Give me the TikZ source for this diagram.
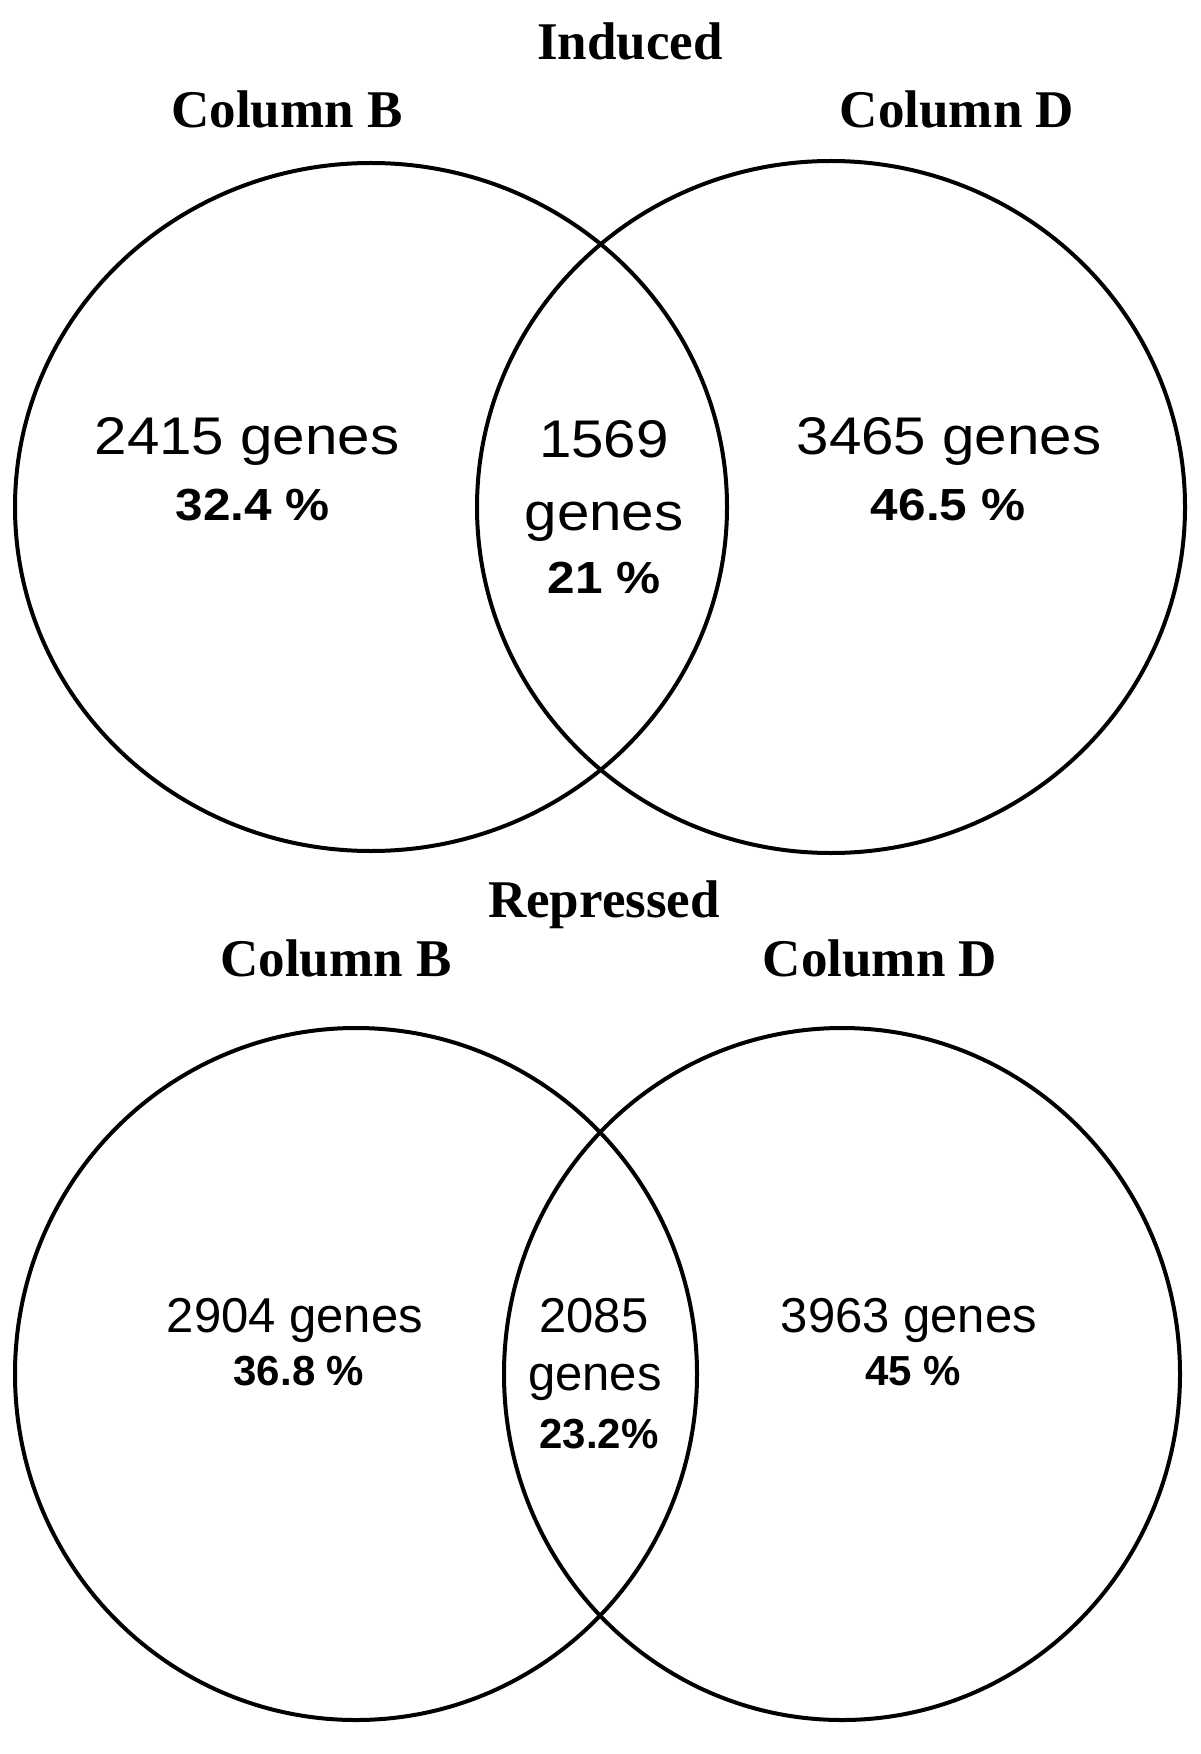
\documentclass[tikz,border=0pt]{standalone}
\usepackage{fontspec}
\setmainfont{Liberation Serif}
\newfontfamily\countfont{Liberation Sans}
\newfontfamily\widefont[FakeStretch=1.1]{Liberation Sans}
\usetikzlibrary{positioning}
\tikzset{
  set/.style={draw=black, line width=2pt},
  head/.style={anchor=base, font=\fontsize{26.5}{30}\selectfont\bfseries},
  bigcount/.style={anchor=base, font=\widefont\fontsize{26.5}{30}\selectfont},
  bigshare/.style={anchor=base, font=\widefont\fontsize{22.5}{26}\selectfont\bfseries},
  count/.style={anchor=base, font=\countfont\fontsize{24.5}{28}\selectfont},
  share/.style={anchor=base, font=\countfont\fontsize{21}{24}\selectfont\bfseries}
}

\begin{document}
\begin{tikzpicture}[x=0.5pt, y=-0.5pt]
  \useasboundingbox (0,0) rectangle (1200,1754);
  % induced
  \node[head] (indTitle) at (630,60) {Induced};
  \node[head] (indB) at (287,128) {Column B};
  \node[head] (indD) at (957,128) {Column D};
  \draw[set] (371,507) ellipse [x radius=356, y radius=344];
  \draw[set] (831,507) ellipse [x radius=354, y radius=346];
  \node[bigcount] (indBn) at (247,455) {2415 genes};
  \node[bigshare] (indBp) at (253,520) {32.4 \%};
  \node[bigcount] (indBDn) at (604,458) {1569};
  \node[bigcount] (indBDg) at (604,530) {genes};
  \node[bigshare] (indBDp) at (604,593) {21 \%};
  \node[bigcount] (indDn) at (949,455) {3465 genes};
  \node[bigshare] (indDp) at (948,520) {46.5 \%};
  % repressed
  \node[head] (repTitle) at (604,917) {Repressed};
  \node[head] (repB) at (336,976) {Column B};
  \node[head] (repD) at (880,976) {Column D};
  \draw[set] (356,1374) ellipse [x radius=341, y radius=346];
  \draw[set] (842,1374) ellipse [x radius=338, y radius=346];
  \node[count] (repBn) at (295,1332) {2904 genes};
  \node[share] (repBp) at (299,1385) {36.8 \%};
  \node[count] (repBDn) at (594,1332) {2085};
  \node[count] (repBDg) at (595,1390) {genes};
  \node[share] (repBDp) at (599,1448) {23.2\%};
  \node[count] (repDn) at (909,1332) {3963 genes};
  \node[share] (repDp) at (913,1385) {45 \%};
\end{tikzpicture}
\end{document}
